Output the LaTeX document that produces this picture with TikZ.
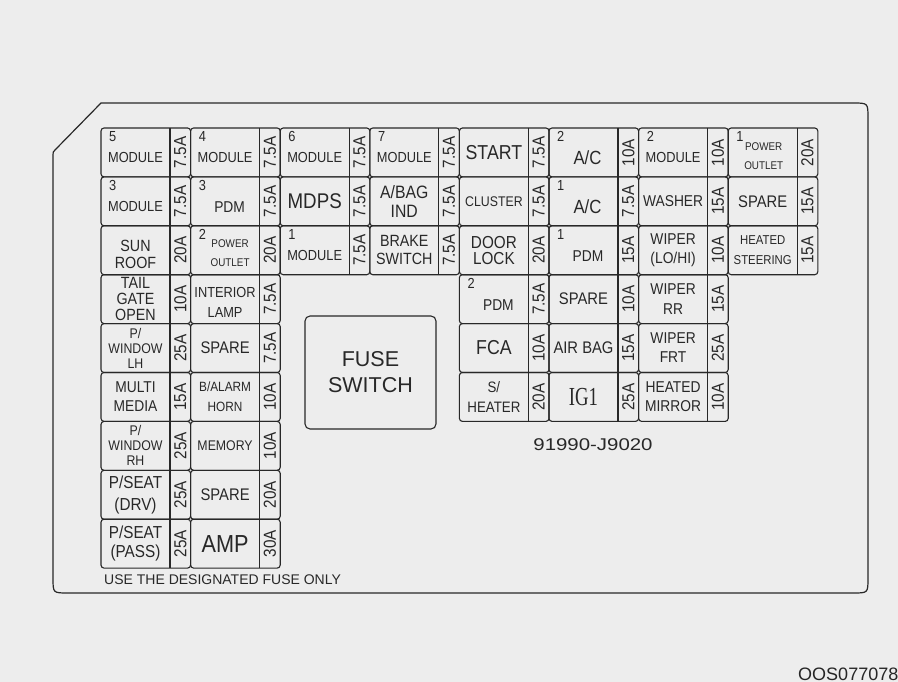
\documentclass[tikz,border=0pt]{standalone}
\usepackage{fontspec}
\setmainfont[FakeStretch=0.88]{Liberation Sans}
\newfontfamily\widefont{Liberation Sans}
\newfontfamily\igfont{Liberation Serif}
\definecolor{bg}{RGB}{237,237,237}
\definecolor{ink}{RGB}{40,40,40}
\newcommand\fz[2]{\pgfmathsetmacro\fzsize{#1*1.12}\fontsize{\fzsize}{#2}\selectfont}
\newcommand\wz[2]{\widefont\fontsize{#1}{#2}\selectfont}
% #1 col, #2 row, #3 id, #4 index number, #5 label options, #6 label, #7 rating
\newcommand\fpair[7]{%
  \pgfmathsetmacro\fpx{101+89.6*(#1-1)}%
  \pgfmathsetmacro\fpy{128+48.9*(#2-1)}%
  \draw[pairbox] (\fpx,\fpy) rectangle ++(89.6,48.9);
  \draw[divline] (\fpx+69,\fpy) -- ++(0,48.9);
  \node[lbl,#5] (n#3) at (\fpx+34.5,\fpy+24.45) {#6};
  \node[rate] (r#3) at (\fpx+79.3,\fpy+24.45) {#7};
  \def\tmpidx{#4}\ifx\tmpidx\empty\else\node[idx] (k#3) at (\fpx+8,\fpy+3) {#4};\fi
}
\begin{document}
\begin{tikzpicture}[x=1pt,y=-1pt,
  pairbox/.style={draw=ink,line width=1.1pt,rounded corners=3pt},
  divline/.style={draw=ink,line width=1.1pt},
  panel/.style={draw=ink,line width=1.2pt},
  lbl/.style={text=ink,align=center,inner sep=0pt,font=\fz{13}{15}},
  rate/.style={text=ink,rotate=90,inner sep=0pt,font=\fz{15.5}{17}},
  idx/.style={text=ink,anchor=north west,inner sep=0pt,font=\fz{13}{14}},
  mod/.style={yshift=-5pt},
  pdm/.style={font=\fz{14}{16},xshift=4.5pt,yshift=-6pt},
  ac/.style={font=\fz{17}{19},xshift=4pt,yshift=-5pt},
  pw/.style={font=\fz{10}{19}},
  spare/.style={font=\fz{15}{17}},
  txt/.style={text=ink,inner sep=0pt}]
\fill[bg] (0,0) rectangle (898,682);
\useasboundingbox (0,0) rectangle (898,682);
% panel outline
\draw[panel] (101,103) -- (853,103) .. controls (868,103) .. (868,118)
  -- (868,578) .. controls (868,593) .. (853,593)
  -- (68,593) .. controls (53,593) .. (53,578)
  -- (53,155) .. controls (53,152) .. (55,150) -- cycle;
% row 1
\fpair{1}{1}{a1}{5}{mod}{MODULE}{7.5A}
\fpair{2}{1}{a2}{4}{mod}{MODULE}{7.5A}
\fpair{3}{1}{a3}{6}{mod}{MODULE}{7.5A}
\fpair{4}{1}{a4}{7}{mod}{MODULE}{7.5A}
\fpair{5}{1}{a5}{}{font=\fz{18}{20}}{START}{7.5A}
\fpair{6}{1}{a6}{2}{ac}{A/C}{10A}
\fpair{7}{1}{a7}{2}{mod}{MODULE}{10A}
\fpair{8}{1}{a8}{1}{pw,xshift=1pt,yshift=-4pt}{POWER\\OUTLET}{20A}
% row 2
\fpair{1}{2}{b1}{3}{mod}{MODULE}{7.5A}
\fpair{2}{2}{b2}{3}{pdm}{PDM}{7.5A}
\fpair{3}{2}{b3}{}{font=\fz{19}{22}}{MDPS}{7.5A}
\fpair{4}{2}{b4}{}{font=\fz{16}{19}}{A/BAG\\IND}{7.5A}
\fpair{5}{2}{b5}{}{font=\fz{12.5}{15}}{CLUSTER}{7.5A}
\fpair{6}{2}{b6}{1}{ac}{A/C}{7.5A}
\fpair{7}{2}{b7}{}{font=\fz{14}{16}}{WASHER}{15A}
\fpair{8}{2}{b8}{}{spare}{SPARE}{15A}
% row 3
\fpair{1}{3}{c1}{}{font=\fz{14.5}{17},yshift=-4pt}{SUN\\ROOF}{20A}
\fpair{2}{3}{c2}{2}{pw,xshift=5pt,yshift=-3pt}{POWER\\OUTLET}{20A}
\fpair{3}{3}{c3}{1}{mod}{MODULE}{7.5A}
\fpair{4}{3}{c4}{}{font=\fz{14.5}{18}}{BRAKE\\SWITCH}{7.5A}
\fpair{5}{3}{c5}{}{font=\fz{15.5}{16}}{DOOR\\LOCK}{20A}
\fpair{6}{3}{c6}{1}{pdm}{PDM}{15A}
\fpair{7}{3}{c7}{}{font=\fz{14}{19}}{WIPER\\(LO/HI)}{10A}
\fpair{8}{3}{c8}{}{font=\fz{11.5}{20}}{HEATED\\STEERING}{15A}
% row 4
\fpair{1}{4}{d1}{}{font=\fz{14.5}{16}}{TAIL\\GATE\\OPEN}{10A}
\fpair{2}{4}{d2}{}{font=\fz{13}{20},yshift=-3pt}{INTERIOR\\LAMP}{7.5A}
\fpair{5}{4}{d5}{2}{pdm}{PDM}{7.5A}
\fpair{6}{4}{d6}{}{spare}{SPARE}{10A}
\fpair{7}{4}{d7}{}{font=\fz{14}{20}}{WIPER\\RR}{15A}
% row 5
\fpair{1}{5}{e1}{}{font=\fz{12.5}{15}}{P/\\WINDOW\\LH}{25A}
\fpair{2}{5}{e2}{}{spare}{SPARE}{7.5A}
\fpair{5}{5}{e5}{}{font=\fz{18}{20}}{FCA}{10A}
\fpair{6}{5}{e6}{}{spare}{AIR BAG}{15A}
\fpair{7}{5}{e7}{}{font=\fz{14}{19}}{WIPER\\FRT}{25A}
% row 6
\fpair{1}{6}{f1}{}{font=\fz{14}{19}}{MULTI\\MEDIA}{15A}
\fpair{2}{6}{f2}{}{font=\fz{12}{20}}{B/ALARM\\HORN}{10A}
\fpair{5}{6}{f5}{}{font=\fz{13.5}{20}}{S/\\HEATER}{20A}
\fpair{6}{6}{f6}{}{font=\igfont\fontsize{26}{28}\selectfont}{\scalebox{0.72}[1]{IG1}}{25A}
\fpair{7}{6}{f7}{}{font=\fz{14}{19}}{HEATED\\MIRROR}{10A}
% row 7
\fpair{1}{7}{g1}{}{font=\fz{12.5}{15}}{P/\\WINDOW\\RH}{25A}
\fpair{2}{7}{g2}{}{font=\fz{12.5}{15}}{MEMORY}{10A}
% row 8
\fpair{1}{8}{h1}{}{font=\fz{15.5}{22}}{P/SEAT\\(DRV)}{25A}
\fpair{2}{8}{h2}{}{spare}{SPARE}{20A}
% row 9
\fpair{1}{9}{i1}{}{font=\fz{15.5}{19}}{P/SEAT\\(PASS)}{25A}
\fpair{2}{9}{i2}{}{font=\fz{22}{24}}{AMP}{30A}
% fuse switch
\draw[pairbox,rounded corners=5pt] (305,316) rectangle (436,429);
\node[txt,align=center,font=\wz{21.5}{26}] (fsw) at (370.5,372.5) {FUSE\\SWITCH};
% part number and notes
\node[txt,font=\wz{17}{19}] (pn) at (593,445) {\scalebox{1.2}[1]{91990-J9020}};
\node[txt,anchor=west,font=\wz{14}{16}] (note) at (104,580) {USE THE DESIGNATED FUSE ONLY};
\node[txt,anchor=base east,font=\wz{18}{20},text=black!85] (code) at (898.5,680) {OOS077078};
\end{tikzpicture}
\end{document}
